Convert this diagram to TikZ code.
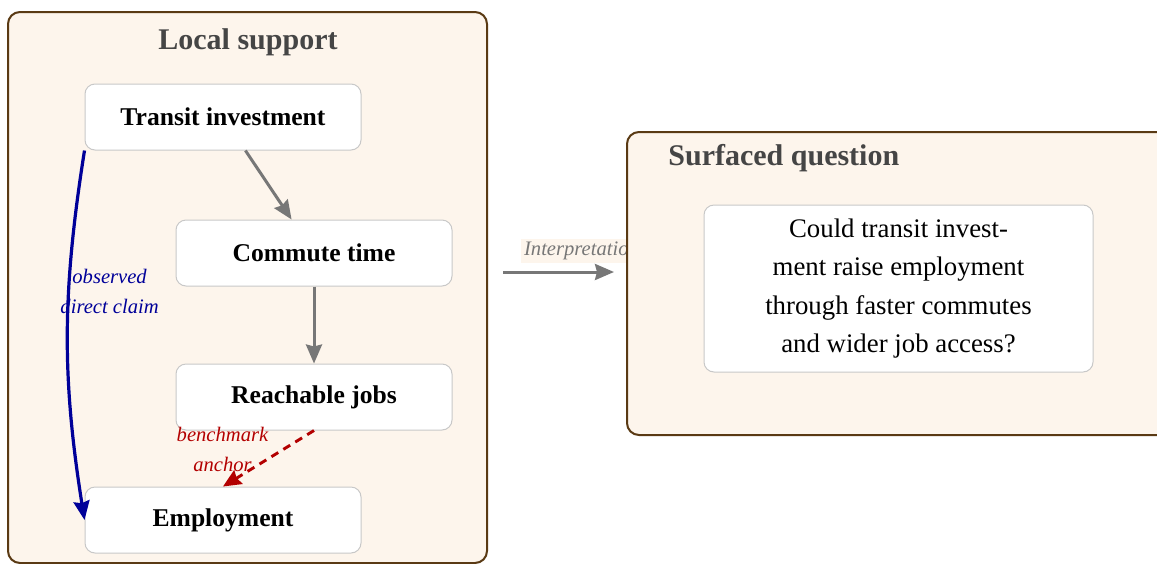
\documentclass[tikz,border=0pt]{standalone}
\usepackage{fontspec}
\setmainfont{Liberation Serif}
\usetikzlibrary{arrows.meta,calc}
\definecolor{boxfill}{HTML}{FDF5EC}
\definecolor{boxline}{HTML}{5A3A14}
\definecolor{titlegray}{HTML}{454545}
\definecolor{arrowgray}{HTML}{777777}
\definecolor{navyblue}{HTML}{000099}
\definecolor{darkred}{HTML}{B30000}
\definecolor{nodeline}{HTML}{C8C8C8}
\tikzset{
  group/.style={draw=boxline, fill=boxfill, line width=1pt, rounded corners=6pt, inner sep=0pt},
  box/.style={draw=nodeline, fill=white, line width=0.5pt, rounded corners=5pt,
    minimum width=138pt, minimum height=33pt, inner sep=0pt,
    font=\fontsize{12.8}{15}\selectfont\bfseries},
  grouptitle/.style={font=\fontsize{15}{18}\selectfont\bfseries, text=titlegray, inner sep=0pt},
  flow/.style={draw=arrowgray, line width=1.5pt, -{Stealth[length=9.5pt,width=8pt,inset=1pt]}},
  claim/.style={draw=navyblue, line width=1.6pt, -{Stealth[length=9.5pt,width=8pt,inset=1pt]}},
  bench/.style={draw=darkred, line width=1.45pt, dash pattern=on 4pt off 3pt, -{Stealth[length=9pt,width=8pt,inset=1pt]}},
  lbl/.style={font=\fontsize{10.3}{15}\selectfont\itshape, align=center, inner sep=0pt},
}
\begin{document}
\begin{tikzpicture}[x=0.5pt,y=-0.5pt]
\useasboundingbox (0,0) rectangle (1157,563);
\clip (0,0) rectangle (1157,563);
% left group
\node[group, minimum width=239.5pt, minimum height=275.5pt] (L) at (247.5,287.5) {};
\node[grouptitle] (Lt) at (248,42) {Local support};
\node[box] (T) at (223,117) {Transit investment};
\node[box] (C) at (314,253) {Commute time};
\node[box] (R) at (314,397) {Reachable jobs};
\node[box] (E) at (223,520) {Employment};
\draw[flow] (T) -- (C);
\draw[flow] (C) -- (R);
\draw[claim] (T.south west) to[bend right=9]
  node[pos=0.5, xshift=21pt, yshift=22pt, lbl, text=navyblue] {observed\\direct claim} (E.west);
\draw[bench] (R.south) --
  node[pos=0.5, xshift=-23pt, yshift=4.75pt, lbl, text=darkred] {benchmark\\anchor} (E.north);
% interpretation arrow
\coordinate (I1) at (503,272);
\coordinate (I2) at (614,272);
\draw[flow] (I1) -- node[pos=0.5, xshift=11.5pt, yshift=10.5pt, lbl, text=arrowgray, fill=boxfill, inner sep=1.5pt] {Interpretation} (I2);
% right group
\node[group, minimum width=276.5pt, minimum height=151.5pt] (S) at (903.5,283.5) {};
\node[grouptitle, anchor=west] (St) at (668,158) {Surfaced question};
\node[box, minimum width=194.5pt, minimum height=83.5pt, align=center,
  font=\fontsize{13.4}{19.3}\selectfont] (Q) at (898.5,288.5)
  {Could transit invest-\\ment raise employment\\through faster commutes\\and wider job access?};
\end{tikzpicture}
\end{document}
